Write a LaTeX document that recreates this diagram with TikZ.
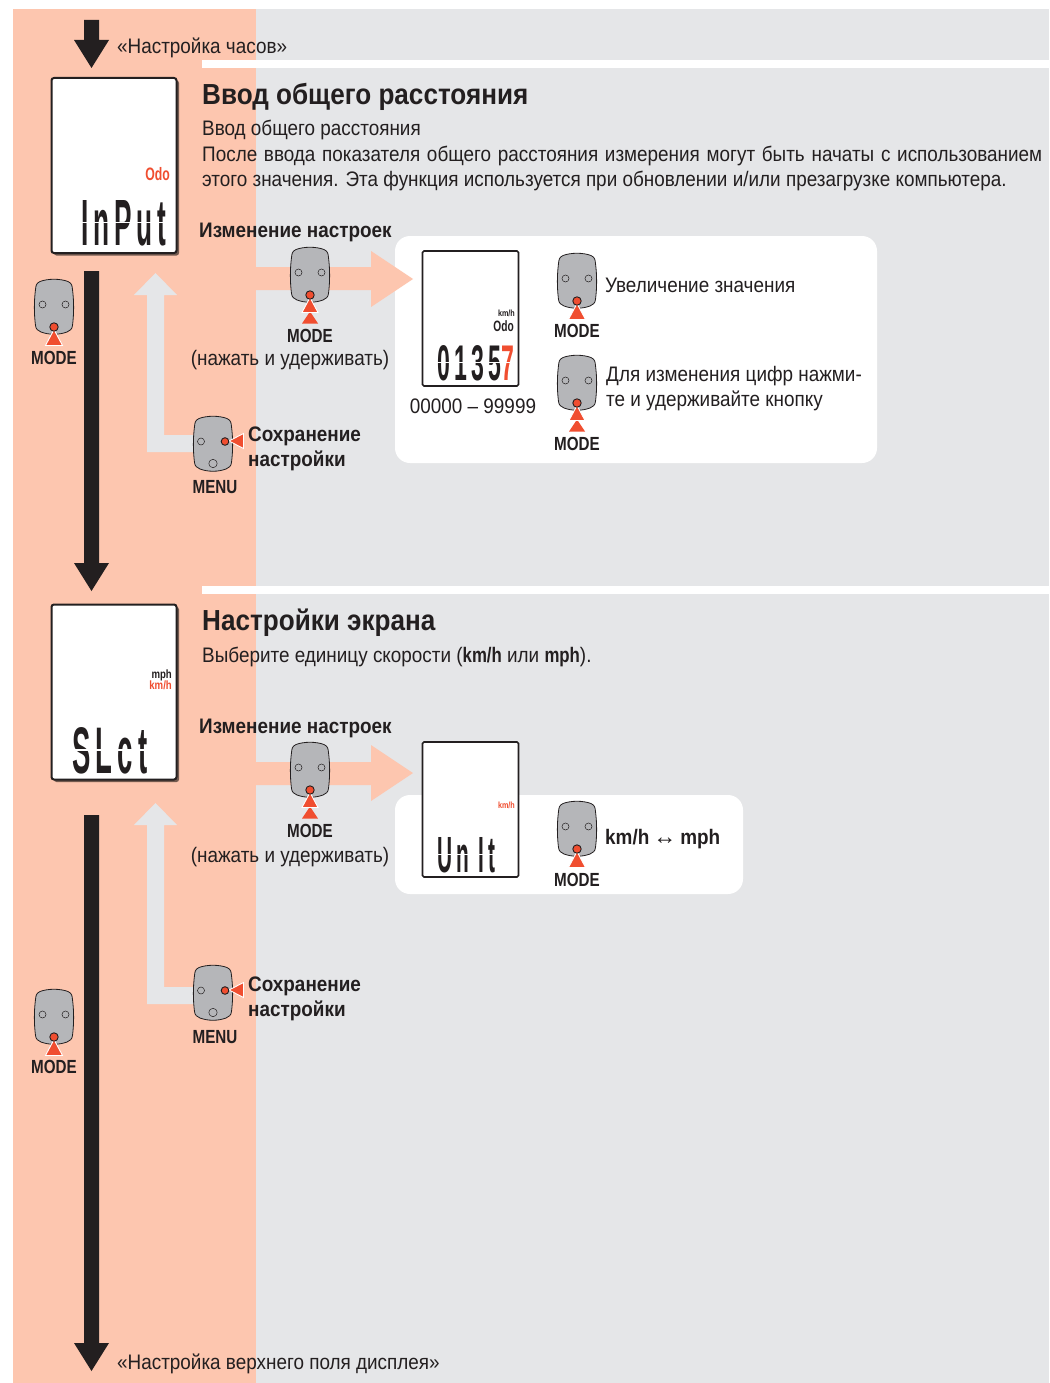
\documentclass[tikz,border=0pt]{standalone}
\usepackage{fontspec}
\setmainfont[FakeStretch=0.9]{Liberation Sans}
\newfontfamily\keyfont[FakeStretch=0.8]{Liberation Sans}
\newfontfamily\odofont[FakeStretch=0.68]{Liberation Sans}
\newfontfamily\lcdfont[FakeStretch=0.75,LetterSpace=14]{Liberation Sans}
\newfontfamily\arwfont{Liberation Sans}
\usetikzlibrary{shadows}
\definecolor{bandpink}{HTML}{FDC6AF}
\definecolor{bandgrey}{HTML}{E5E6E8}
\definecolor{btngrey}{HTML}{B5B6B9}
\definecolor{markred}{HTML}{F04E30}
\definecolor{inkblack}{HTML}{231F20}
\tikzset{
  lbl_n/.style = {anchor=base west, inner sep=0pt, text=inkblack, font=\fontsize{21}{25}\selectfont},
  lbl_b/.style = {lbl_n, font=\fontsize{21}{25}\selectfont\bfseries},
  lbl_t/.style = {lbl_n, font=\fontsize{29}{32}\selectfont\bfseries},
  lbl_k/.style = {anchor=base, inner sep=0pt, text=inkblack, font=\keyfont\fontsize{19}{22}\selectfont\bfseries},
  lbl_s/.style = {anchor=base east, inner sep=0pt, font=\keyfont\fontsize{#1}{#1}\selectfont\bfseries},
  lbl_o/.style = {anchor=base east, inner sep=0pt, font=\odofont\fontsize{#1}{#1}\selectfont\bfseries},
  lcd_n/.style = {anchor=base west, inner sep=0pt, text=inkblack},
  lcd_c/.style = {draw=white, line width=1.3pt},
  scr_b/.style = {draw=inkblack, fill=white, line width=2pt, rounded corners=2.5pt, inner sep=0pt,
    minimum width=125pt, minimum height=175pt, drop shadow={shadow xshift=2.5pt, shadow yshift=-2.5pt, fill=black, opacity=.55}},
  scr_s/.style = {draw=inkblack, fill=white, line width=1.6pt, rounded corners=1.5pt, inner sep=0pt,
    minimum width=96pt, minimum height=135pt},
  arr_k/.style = {fill=inkblack},
  arr_p/.style = {fill=bandpink},
  arr_g/.style = {fill=bandgrey},
  btn_o/.style = {draw=inkblack, fill=btngrey, line width=.8pt},
  btn_h/.style = {draw=inkblack, fill=btngrey, line width=.5pt},
  btn_r/.style = {draw=inkblack, fill=markred, line width=.9pt},
  btn_t/.style = {fill=markred, draw=white, line width=.9pt, line join=miter},
  pics/btnshell/.style = {code = {
    \path[btn_o] (-14,-26) .. controls (-6,-29) and (6,-29) .. (14,-26)
      .. controls (18,-24) and (18,-22) .. (18.5,-18)
      .. controls (20,-6) and (20,6) .. (18.5,18)
      .. controls (18,22) and (16,23) .. (13,24.5)
      .. controls (5,27.5) and (-5,27.5) .. (-13,24.5)
      .. controls (-16,23) and (-18,22) .. (-18.5,18)
      .. controls (-20,6) and (-20,-6) .. (-18.5,-18)
      .. controls (-18,-22) and (-18,-24) .. (-14,-26) -- cycle;
  }},
  pics/btnmode/.style = {code = {
    \pic {btnshell};
    \path[btn_h] (-11.5,-3) circle (3.5) (11.5,-3) circle (3.5);
    \path[btn_t] (0,22) -- (8.5,38) -- (-8.5,38) -- cycle;
    \path[btn_r] (0,19.5) circle (4.2);
  }},
  pics/btnhold/.style = {code = {
    \pic {btnshell};
    \path[btn_h] (-11.5,-3) circle (3.5) (11.5,-3) circle (3.5);
    \path[fill=markred] (0,36) -- (8,48) -- (-8,48) -- cycle;
    \path[btn_t] (0,22) -- (8,37) -- (-8,37) -- cycle;
    \path[btn_r] (0,19.5) circle (4.2);
  }},
  pics/btnmenu/.style = {code = {
    \pic {btnshell};
    \path[btn_h] (-12,-3) circle (3.5) (0,19) circle (4.2);
    \path[btn_t] (16,-3.5) -- (30.5,-11) -- (30.5,4) -- cycle;
    \path[btn_r] (12,-3) circle (3.8);
  }}
}
\begin{document}
\begin{tikzpicture}[x=1pt,y=-1pt]
  \useasboundingbox (0,0) rectangle (1049,1383);
  % bands
  \fill[bandgrey] (256,9) rectangle (1049,1383);
  \fill[bandpink] (13,9) rectangle (256,1383);
  \fill[white] (202,60) rectangle (1049,68);
  \fill[white] (202,586) rectangle (1049,594);
  \fill[white, rounded corners=15pt] (395,236) rectangle (877,463);
  \fill[white, rounded corners=15pt] (395,795) rectangle (743,894);

  % black flow arrows
  \path[arr_k] (84,20) -- (99,20) -- (99,40) -- (109,40) -- (91.5,68) -- (74,40) -- (84,40) -- cycle;
  \path[arr_k] (84,271) -- (99,271) -- (99,563) -- (109,563) -- (91.5,591) -- (74,563) -- (84,563) -- cycle;
  \path[arr_k] (84,815) -- (99,815) -- (99,1343) -- (109,1343) -- (91.5,1371) -- (74,1343) -- (84,1343) -- cycle;

  % pink and grey arrows, first block
  \path[arr_p] (256,267) -- (371,267) -- (371,251) -- (413,279) -- (371,307) -- (371,290) -- (256,290) -- cycle;
  \path[arr_g] (155.5,273) -- (177,295) -- (164,295) -- (164,435) -- (200,435) -- (200,452) -- (147,452) -- (147,295) -- (134,295) -- cycle;
  % pink and grey arrows, second block
  \path[arr_p] (256,762) -- (371,762) -- (371,745) -- (413,773) -- (371,801) -- (371,785) -- (256,785) -- cycle;
  \path[arr_g] (155.5,803) -- (177,825) -- (164,825) -- (164,987) -- (200,987) -- (200,1004) -- (147,1004) -- (147,825) -- (134,825) -- cycle;

  % screens
  \node[scr_b] (inputscr) at (114,165.5) {};
  \node[scr_b] (slctscr) at (114,692) {};
  \node[scr_s] (odoscr) at (470.5,318.5) {};
  \node[scr_s] (unitscr) at (470.5,809.5) {};

  \node[lbl_o=18, text=markred] (inputodo) at (170,181) {Odo};
  \node[lcd_n] (inputlcd) at (81,245) {\resizebox{85pt}{45pt}{\lcdfont\bfseries InPut}};
  \draw[lcd_c] (76,222.5) -- (172,222.5);
  \node[lbl_s=12, text=inkblack] (slctmph) at (172,678) {mph};
  \node[lbl_s=12, text=markred] (slctkmh) at (172,689) {km/h};
  \node[lcd_n] (slctlcd) at (72,773) {\resizebox{75pt}{46pt}{\lcdfont\bfseries SLct}};
  \draw[lcd_c] (66,750) -- (172,750);
  \node[lbl_s=9, text=inkblack] (odokmh) at (515,316) {km/h};
  \node[lbl_o=15, text=inkblack] (odoname) at (514,331) {Odo};
  \node[lcd_n] (odolcd) at (437,380) {\resizebox{77pt}{35pt}{\lcdfont\bfseries 0135\textcolor{markred}{7}}};
  \draw[lcd_c] (433,362.5) -- (517,362.5);
  \node[lbl_s=9, text=markred] (unitkmh) at (515,808) {km/h};
  \node[lcd_n] (unitlcd) at (437,872) {\resizebox{58pt}{35pt}{\lcdfont\bfseries Un It}};
  \draw[lcd_c] (433,854.5) -- (517,854.5);

  % texts
  \node[lbl_n] (clocktxt) at (117,53.5) {«Настройка часов»};
  \node[lbl_t] (inputttl) at (202,105) {Ввод общего расстояния};
  \node[lbl_n] (inputsub) at (202,136) {Ввод общего расстояния};
  \node[lbl_n] (inputln1) at (202,161.5) {\makebox[840pt][s]{После ввода показателя общего расстояния измерения могут быть начаты с использованием}};
  \node[lbl_n] (inputln2) at (202,186.5) {этого значения. Эта функция используется при обновлении и/или презагрузке компьютера.};
  \node[lbl_b] (chgtxt1) at (199,237) {Изменение настроек};
  \node[lbl_k] (modelbl2) at (310,342) {MODE};
  \node[lbl_n, anchor=base] (holdtxt1) at (290,365) {(нажать и удерживать)};
  \node[lbl_b] (savetxt1) at (248,441) {Сохранение};
  \node[lbl_b] (savetxt2) at (248,466) {настройки};
  \node[lbl_k] (menulbl1) at (215,493) {MENU};
  \node[lbl_k] (modelbl1) at (54,364) {MODE};
  \node[lbl_n, anchor=base] (rangetxt) at (473,413) {00000 – 99999};
  \node[lbl_n] (inctxt) at (605,292) {Увеличение значения};
  \node[lbl_k] (modelbl3) at (577,337) {MODE};
  \node[lbl_n] (digtxt1) at (606,381) {Для изменения цифр нажми-};
  \node[lbl_n] (digtxt2) at (606,406) {те и удерживайте кнопку};
  \node[lbl_k] (modelbl4) at (577,450) {MODE};

  \node[lbl_t] (dispttl) at (202,630) {Настройки экрана};
  \node[lbl_n] (disptxt) at (202,662) {Выберите единицу скорости (\textbf{\keyfont km/h} или \textbf{\keyfont mph}).};
  \node[lbl_b] (chgtxt2) at (199,733) {Изменение настроек};
  \node[lbl_k] (modelbl5) at (310,837) {MODE};
  \node[lbl_n, anchor=base] (holdtxt2) at (290,862) {(нажать и удерживать)};
  \node[lbl_b] (unitxt) at (605,844) {km/h\hspace{4pt}{\arwfont\mdseries\fontsize{23}{23}\selectfont ↔}\hspace{4pt}mph};
  \node[lbl_k] (modelbl6) at (577,886) {MODE};
  \node[lbl_b] (savetxt3) at (248,991) {Сохранение};
  \node[lbl_b] (savetxt4) at (248,1016) {настройки};
  \node[lbl_k] (menulbl2) at (215,1043) {MENU};
  \node[lbl_k] (modelbl7) at (54,1073) {MODE};
  \node[lbl_n] (toptxt) at (117,1369) {«Настройка верхнего поля дисплея»};

  % buttons
  \pic at (54,307.5) {btnmode};
  \pic at (54,1017.5) {btnmode};
  \pic at (310,275.5) {btnhold};
  \pic at (310,770.5) {btnhold};
  \pic at (577,281.5) {btnmode};
  \pic at (577,383.5) {btnhold};
  \pic at (577,829.5) {btnmode};
  \pic at (213,444.5) {btnmenu};
  \pic at (213,993.5) {btnmenu};
\end{tikzpicture}
\end{document}
